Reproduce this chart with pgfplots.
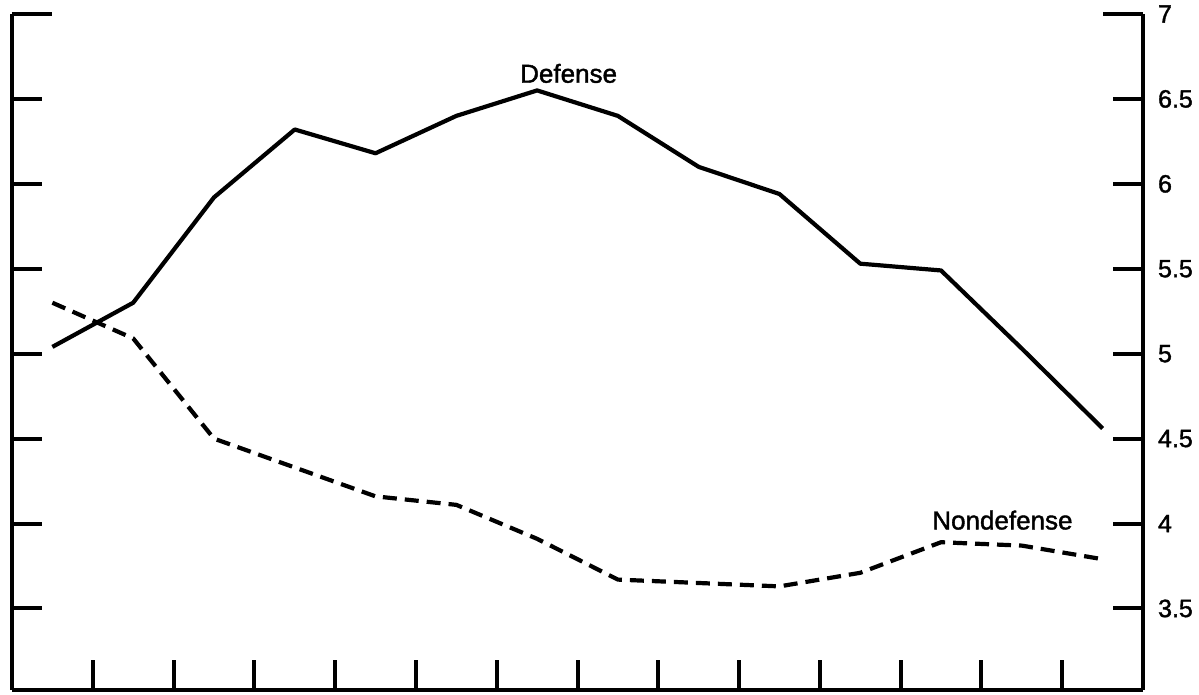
\documentclass[border=0pt]{standalone}
\usepackage{pgfplots}
\pgfplotsset{compat=1.18}
\usepackage{fontspec}
\setmainfont{Liberation Sans}
\newfontfamily\heavy{Liberation Sans}[FakeBold=1.5]

\begin{document}
\begin{tikzpicture}
\begin{axis}[
    name=ax,
    scale only axis,
    width=565.5pt, height=338pt,
    xmin=0, xmax=14,
    ymin=3.02, ymax=7,
    separate axis lines,
    axis x line=bottom,
    axis y line=box,
    axis line style={line width=2.2pt, -},
    every outer x axis line/.append style={-},
    every outer y axis line/.append style={-},
    xtick={1,...,13},
    xticklabels={},
    xtick pos=bottom,
    ytick={3.5,4,4.5,5,5.5,6,6.5},
    extra y ticks={7},
    extra y tick labels={7},
    extra y tick style={major tick length=20pt},
    ytick pos=both,
    yticklabel pos=right,
    tick align=inside,
    major tick length=15pt,
    major tick style={line width=2pt, black},
    yticklabel style={font=\heavy\fontsize{12.5}{14}\selectfont, anchor=west, xshift=4pt},
    /pgf/number format/assume math mode=true,
    clip=false,
]
% Defense
\addplot[black, line width=2.1pt, line join=round] coordinates {
  (0.5,5.04) (1.5,5.30) (2.5,5.92) (3.5,6.32) (4.5,6.18) (5.5,6.40) (6.5,6.55)
  (7.5,6.40) (8.5,6.10) (9.5,5.94) (10.5,5.53) (11.5,5.49) (12.5,5.03) (13.5,4.56)
};
% Nondefense
\addplot[black, line width=2.1pt, line join=round, dash pattern=on 7pt off 4pt] coordinates {
  (0.5,5.30) (1.5,5.09) (2.5,4.50) (3.5,4.33) (4.5,4.16) (5.5,4.11) (6.5,3.91)
  (7.5,3.67) (8.5,3.65) (9.5,3.63) (10.5,3.71) (11.5,3.89) (12.5,3.87) (13.5,3.79)
};
\node[font=\heavy\fontsize{13}{15}\selectfont] at (axis cs:6.89,6.65) {Defense};
\node[font=\heavy\fontsize{13}{15}\selectfont] at (axis cs:12.26,4.02) {Nondefense};
\end{axis}
\pgfresetboundingbox
\path[use as bounding box] ([shift={(-6pt,-2.5pt)}]ax.south west) rectangle ([shift={(28pt,7pt)}]ax.north east);
\end{tikzpicture}
\end{document}
